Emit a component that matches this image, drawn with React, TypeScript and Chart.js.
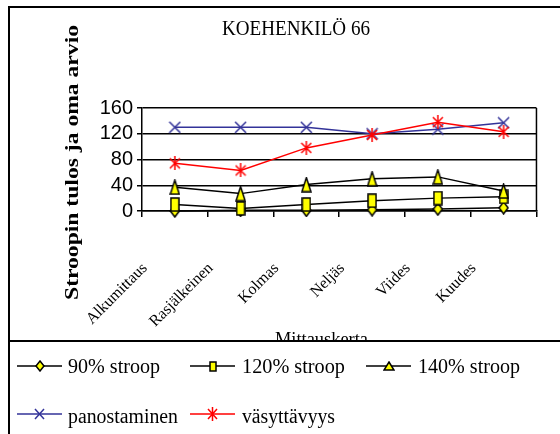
import { useEffect, useRef } from 'react';
import { Chart, registerables } from 'chart.js';

Chart.register(...registerables);

const categories = ['Alkumittaus', 'Rasjälkeinen', 'Kolmas', 'Neljäs', 'Viides', 'Kuudes'];
const stroop90 = [0, 1, 1, 2, 3, 5];
const stroop120 = [10, 4, 10, 16, 20, 22];
const stroop140 = [37, 27, 41, 50, 53, 31];
const panostaminen = [130, 130, 130, 120, 127, 137];
const vasyttavyys = [74, 63, 98, 118, 138, 123];
const seriesNames = ['90% stroop', '120% stroop', '140% stroop', 'panostaminen', 'väsyttävyys'];

const TITLE = 'KOEHENKILÖ 66';
const Y_TITLE = 'Stroopin tulos ja oma arvio';
const X_TITLE = 'Mittauskerta';

const YELLOW = '#FFFF00';
const NAVY = '#333399';
const RED = '#FF0000';
const SERIF = '"Liberation Serif", "Times New Roman", serif';
const SANS = '"Liberation Sans", Arial, sans-serif';

type Painter = (ctx: CanvasRenderingContext2D, w: number, h: number) => void;

function makeMarker(w: number, h: number, paint: Painter): HTMLCanvasElement {
  const c = document.createElement('canvas');
  c.width = w;
  c.height = h;
  const ctx = c.getContext('2d')!;
  paint(ctx, w, h);
  return c;
}

const diamond: Painter = (ctx, w, h) => {
  ctx.beginPath();
  ctx.moveTo(w / 2, 1);
  ctx.lineTo(w - 1, h / 2);
  ctx.lineTo(w / 2, h - 1);
  ctx.lineTo(1, h / 2);
  ctx.closePath();
  ctx.fillStyle = YELLOW;
  ctx.fill();
  ctx.lineWidth = 1.5;
  ctx.strokeStyle = '#000';
  ctx.stroke();
};

const square: Painter = (ctx, w, h) => {
  ctx.fillStyle = YELLOW;
  ctx.fillRect(1, 1, w - 2, h - 2);
  ctx.lineWidth = 1.5;
  ctx.strokeStyle = '#000';
  ctx.strokeRect(1, 1, w - 2, h - 2);
};

const triangle: Painter = (ctx, w, h) => {
  ctx.beginPath();
  ctx.moveTo(w / 2, 1);
  ctx.lineTo(w - 1, h - 1);
  ctx.lineTo(1, h - 1);
  ctx.closePath();
  ctx.fillStyle = YELLOW;
  ctx.fill();
  ctx.lineWidth = 1.5;
  ctx.strokeStyle = '#000';
  ctx.stroke();
};

const cross: Painter = (ctx, w, h) => {
  ctx.beginPath();
  ctx.moveTo(1, 1);
  ctx.lineTo(w - 1, h - 1);
  ctx.moveTo(w - 1, 1);
  ctx.lineTo(1, h - 1);
  ctx.lineWidth = 1.5;
  ctx.strokeStyle = NAVY;
  ctx.stroke();
};

const star: Painter = (ctx, w, h) => {
  ctx.beginPath();
  ctx.moveTo(1, 2);
  ctx.lineTo(w - 1, h - 2);
  ctx.moveTo(w - 1, 2);
  ctx.lineTo(1, h - 2);
  ctx.moveTo(w / 2, 0);
  ctx.lineTo(w / 2, h);
  ctx.lineWidth = 1.5;
  ctx.strokeStyle = RED;
  ctx.stroke();
};

// draws text squeezed or stretched horizontally to a given width
function fitText(
  ctx: CanvasRenderingContext2D,
  text: string,
  x: number,
  y: number,
  width: number,
  font: string,
) {
  ctx.save();
  ctx.font = font;
  ctx.textAlign = 'left';
  ctx.textBaseline = 'alphabetic';
  const w = ctx.measureText(text).width;
  ctx.translate(x, y);
  ctx.scale(width / w, 1);
  ctx.fillStyle = '#000';
  ctx.fillText(text, 0, 0);
  ctx.restore();
}

export default function App() {
  const ref = useRef<HTMLCanvasElement | null>(null);

  useEffect(() => {
    if (!ref.current) return;

    const plotMarkers = [
      makeMarker(11, 14, diamond),
      makeMarker(10, 15, square),
      makeMarker(11, 16, triangle),
      makeMarker(13, 13, cross),
      makeMarker(12, 14, star),
    ];
    const legendMarkers = [
      makeMarker(10, 12, diamond),
      makeMarker(8, 11, square),
      makeMarker(12, 10, triangle),
      makeMarker(11, 12, cross),
      makeMarker(11, 14, star),
    ];
    const lineColors = ['#000', '#000', '#000', NAVY, RED];
    const values = [stroop90, stroop120, stroop140, panostaminen, vasyttavyys];

    const legendItems = [
      { row: 0, x1: 17, x2: 62, tx: 68, tw: 92 },
      { row: 0, x1: 190, x2: 235, tx: 242, tw: 103 },
      { row: 0, x1: 366, x2: 411, tx: 418, tw: 102 },
      { row: 1, x1: 17, x2: 62, tx: 68, tw: 110 },
      { row: 1, x1: 190, x2: 235, tx: 242, tw: 93 },
    ];
    const rowLineY = [366, 414];
    const rowBaseY = [373, 423];

    const decorations = {
      id: 'decorations',
      beforeDatasetsDraw(chart: Chart) {
        const { ctx, chartArea } = chart;
        ctx.save();
        ctx.strokeStyle = '#000';
        ctx.lineWidth = 1.5;
        ctx.beginPath();
        ctx.moveTo(chartArea.right, chartArea.top);
        ctx.lineTo(chartArea.right, chartArea.bottom);
        ctx.stroke();
        ctx.restore();
      },
      afterDraw(chart: Chart) {
        const { ctx } = chart;
        ctx.save();

        // outer frame and legend separator
        ctx.strokeStyle = '#000';
        ctx.lineWidth = 2;
        ctx.beginPath();
        ctx.moveTo(9, 434);
        ctx.lineTo(9, 7);
        ctx.lineTo(560, 7);
        ctx.moveTo(9, 341);
        ctx.lineTo(560, 341);
        ctx.stroke();

        // chart title
        fitText(ctx, TITLE, 222, 35, 148, `20px ${SERIF}`);

        // axis titles
        ctx.save();
        ctx.beginPath();
        ctx.rect(0, 0, 560, 340);
        ctx.clip();
        fitText(ctx, X_TITLE, 275, 345, 93, `19px ${SERIF}`);
        ctx.restore();

        ctx.save();
        ctx.translate(78, 300);
        ctx.rotate(-Math.PI / 2);
        fitText(ctx, Y_TITLE, 0, 0, 275, `bold 19px ${SERIF}`);
        ctx.restore();

        // legend
        legendItems.forEach((it, i) => {
          const y = rowLineY[it.row];
          ctx.strokeStyle = lineColors[i];
          ctx.lineWidth = 1.5;
          ctx.beginPath();
          ctx.moveTo(it.x1, y);
          ctx.lineTo(it.x2, y);
          ctx.stroke();
          const m = legendMarkers[i];
          ctx.drawImage(m, Math.round((it.x1 + it.x2) / 2 - m.width / 2), Math.round(y - m.height / 2));
          fitText(ctx, seriesNames[i], it.tx, rowBaseY[it.row], it.tw, `20px ${SERIF}`);
        });

        ctx.restore();
      },
    };

    const chart = new Chart(ref.current, {
      type: 'line',
      data: {
        labels: categories,
        datasets: values.map((v, i) => ({
          label: seriesNames[i],
          data: v,
          borderColor: lineColors[i],
          backgroundColor: lineColors[i],
          borderWidth: 1.5,
          pointStyle: plotMarkers[i],
          pointRadius: 6,
          pointHoverRadius: 6,
          tension: 0,
          fill: false,
          clip: false as any,
          order: values.length - 1 - i,
        })),
      },
      options: {
        responsive: false,
        animation: false,
        devicePixelRatio: 1,
        layout: { padding: { top: 108, left: 0, right: 10, bottom: 83 } },
        plugins: {
          legend: { display: false },
          title: { display: false },
          tooltip: { enabled: false },
        },
        scales: {
          x: {
            type: 'category',
            offset: true,
            afterFit: (scale: any) => {
              scale.height = 140;
            },
            grid: {
              display: true,
              drawOnChartArea: false,
              drawTicks: true,
              tickLength: 6,
              color: '#000',
              lineWidth: 1.5,
              offset: true,
            },
            border: { display: true, color: '#000', width: 1.5 },
            ticks: {
              autoSkip: false,
              minRotation: 45,
              maxRotation: 45,
              padding: 42,
              labelOffset: -30,
              color: '#000',
              font: { family: SERIF, size: 16 },
            },
          },
          y: {
            min: 0,
            max: 160,
            afterFit: (scale: any) => {
              scale.width = 142;
            },
            grid: {
              color: '#000',
              lineWidth: 1.5,
              drawTicks: true,
              tickLength: 5,
            },
            border: { display: true, color: '#000', width: 1.5 },
            ticks: {
              stepSize: 40,
              autoSkip: false,
              padding: 4,
              color: '#000',
              font: { family: SANS, size: 20, lineHeight: 1 },
            },
          },
        },
      },
      plugins: [decorations],
    });

    return () => chart.destroy();
  }, []);

  return (
    <div style={{ position: 'fixed', left: 0, top: 0, width: 560, height: 434, background: '#fff' }}>
      <canvas ref={ref} width={560} height={434} style={{ display: 'block' }} />
    </div>
  );
}
